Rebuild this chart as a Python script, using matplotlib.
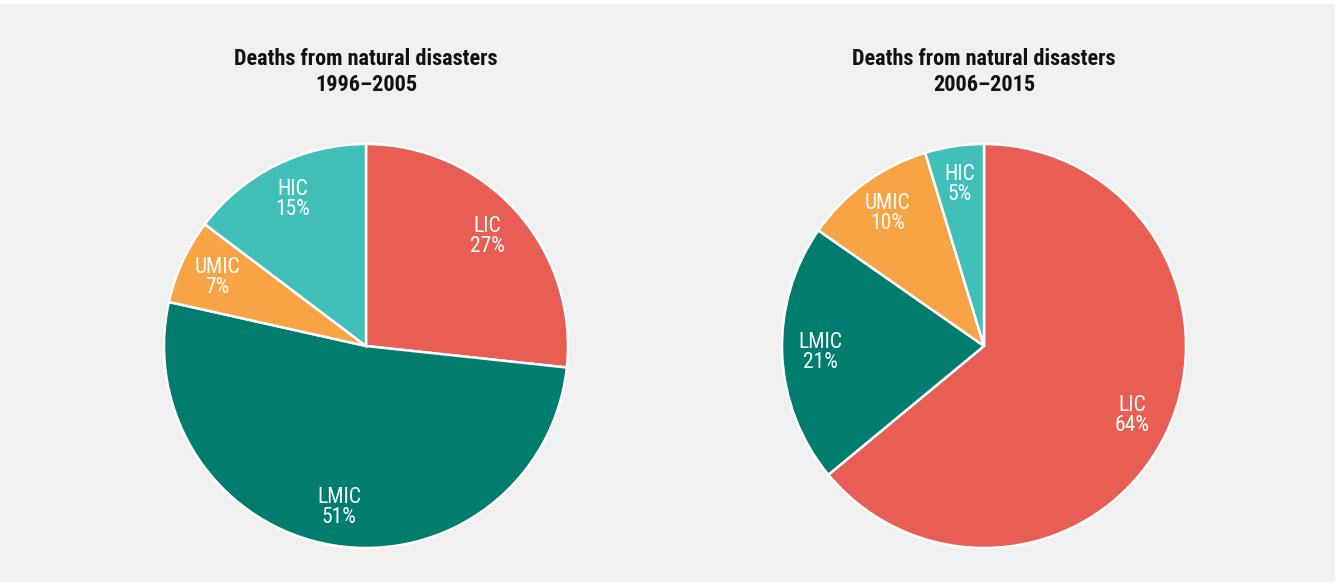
import matplotlib.pyplot as plt
from matplotlib.patches import Rectangle

groups = ["LIC", "LMIC", "UMIC", "HIC"]
colors = ["#e85e52", "#007d6e", "#f9a444", "#41bfb9"]

shares_1996 = [26.7, 51.8, 6.8, 14.7]
labels_1996 = ["27%", "51%", "7%", "15%"]
shares_2006 = [64.0, 20.7, 10.6, 4.7]
labels_2006 = ["64%", "21%", "10%", "5%"]

titles = ["Deaths from natural disasters\n1996\u20132005",
          "Deaths from natural disasters\n2006\u20132015"]

font = ["Roboto Condensed", "Liberation Sans Narrow", "Roboto", "DejaVu Sans"]

W, H = 1337, 585
fig = plt.figure(figsize=(W / 100, H / 100), dpi=100, facecolor="white")
fig.patches.append(Rectangle((0, 3 / H), 1335 / W, 578 / H, transform=fig.transFigure,
                             facecolor="#f0f0f0", edgecolor="none", zorder=-1))

r = 203
for cx, shares, pcts, title in [(366, shares_1996, labels_1996, titles[0]),
                                 (984, shares_2006, labels_2006, titles[1])]:
    cy = 346
    ax = fig.add_axes([(cx - r) / W, (H - cy - r) / H, 2 * r / W, 2 * r / H])
    wedges, texts, autotexts = ax.pie(
        shares, colors=colors, startangle=90, counterclock=False,
        autopct="%1.0f%%", pctdistance=0.81,
        wedgeprops=dict(edgecolor="white", linewidth=1.8))
    for t, g, p in zip(autotexts, groups, pcts):
        t.set_text(f"{g}\n{p}")
        t.set_color("white")
        t.set_fontsize(15.5)
        t.set_family(font)
        t.set_linespacing(0.95)
    ax.set_xlim(-1.005, 1.005)
    ax.set_ylim(-1.005, 1.005)
    ax.set_facecolor("none")
    fig.text(cx / W, 1 - 72 / H, title, ha="center", va="center",
             fontsize=16, fontweight="bold", family=font, linespacing=1.2,
             color="#111111")

fig.savefig("out.png", dpi=100, facecolor=fig.get_facecolor())
